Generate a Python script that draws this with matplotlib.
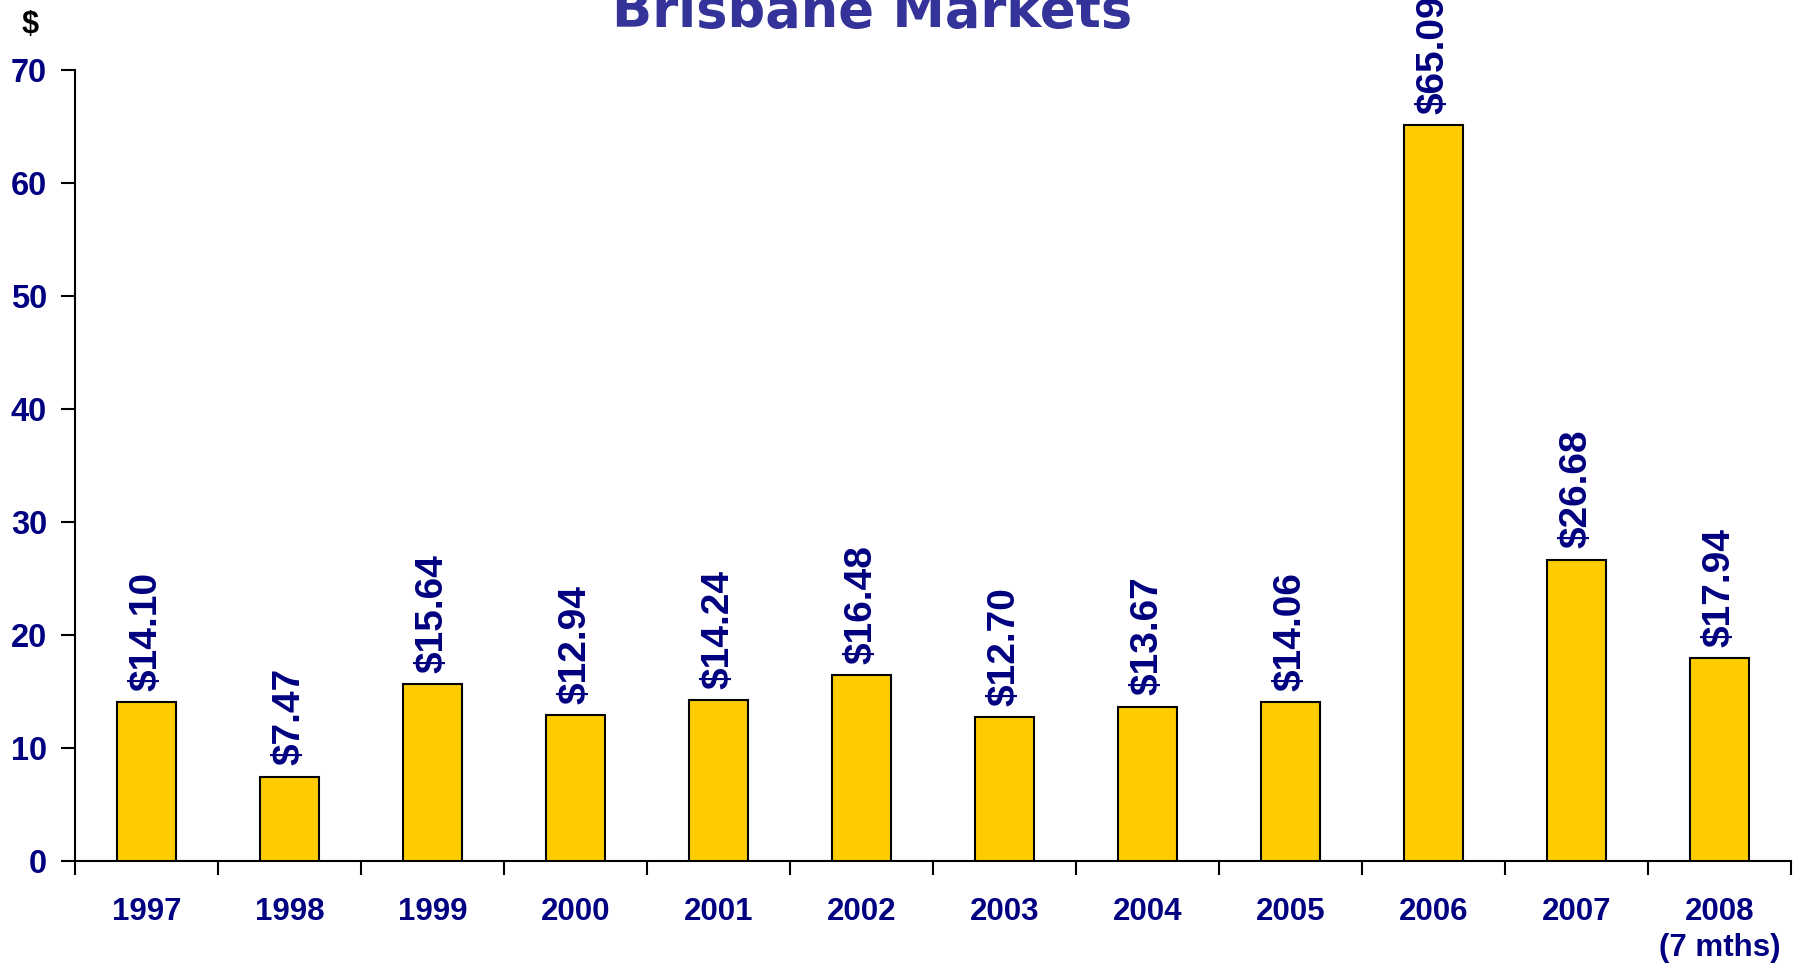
import matplotlib
matplotlib.use("Agg")
import matplotlib.pyplot as plt
from matplotlib.ticker import FixedLocator

years = ["1997", "1998", "1999", "2000", "2001", "2002", "2003", "2004", "2005", "2006", "2007", "2008\n(7 mths)"]
values = [14.10, 7.47, 15.64, 12.94, 14.24, 16.48, 12.70, 13.67, 14.06, 65.09, 26.68, 17.94]
value_labels = ["$14.10", "$7.47", "$15.64", "$12.94", "$14.24", "$16.48", "$12.70", "$13.67", "$14.06", "$65.09", "$26.68", "$17.94"]
yticks = [0, 10, 20, 30, 40, 50, 60, 70]

navy = "#000080"
fig = plt.figure(figsize=(17.95, 9.69), dpi=100)
ax = fig.add_axes([75/1795, 1-861/969, (1791-75)/1795, (861-70)/969])

x = list(range(len(years)))
ax.bar(x, values, width=0.41, color="#FFCC00", edgecolor="black", linewidth=1.5, zorder=3)

for xi, v, lab in zip(x, values, value_labels):
    ax.annotate(lab, (xi, v), xytext=(0, 8), textcoords="offset points",
                rotation=90, ha="center", va="bottom", color=navy,
                fontsize=28, fontweight="bold", family="Liberation Sans",
                annotation_clip=False)

ax.set_xlim(-0.5, len(years) - 0.5)
ax.set_ylim(0, 70)
ax.set_yticks(yticks)
ax.set_yticklabels([str(t) for t in yticks])
ax.set_xticks(x)
ax.set_xticklabels(years)
ax.xaxis.set_minor_locator(FixedLocator([i - 0.5 for i in range(len(years) + 1)]))
ax.tick_params(axis="x", which="major", length=0, pad=26)
ax.tick_params(axis="x", which="minor", length=10, width=1.5, direction="out", color="black")
ax.tick_params(axis="y", which="major", length=10, width=1.5, direction="out", pad=10)

for lbl in ax.get_xticklabels():
    lbl.set_fontsize(22.5)
    lbl.set_linespacing(1.25)
for lbl in ax.get_yticklabels():
    lbl.set_fontsize(23.5)
for lbl in ax.get_xticklabels() + ax.get_yticklabels():
    lbl.set_fontweight("bold")
    lbl.set_family("Liberation Sans")
    lbl.set_color(navy)

for s in ["top", "right"]:
    ax.spines[s].set_visible(False)
for s in ["left", "bottom"]:
    ax.spines[s].set_linewidth(1.5)
    ax.spines[s].set_color("black")

fig.text(872/1795, 1-27/969, "Brisbane Markets", ha="center", va="baseline",
         fontsize=38, fontweight="bold", family="DejaVu Sans", color="#333399")
fig.text(30/1795, 1-33/969, "$", ha="center", va="baseline",
         fontsize=22, fontweight="bold", family="Liberation Sans", color="black")

fig.savefig("out.png", dpi=100)
